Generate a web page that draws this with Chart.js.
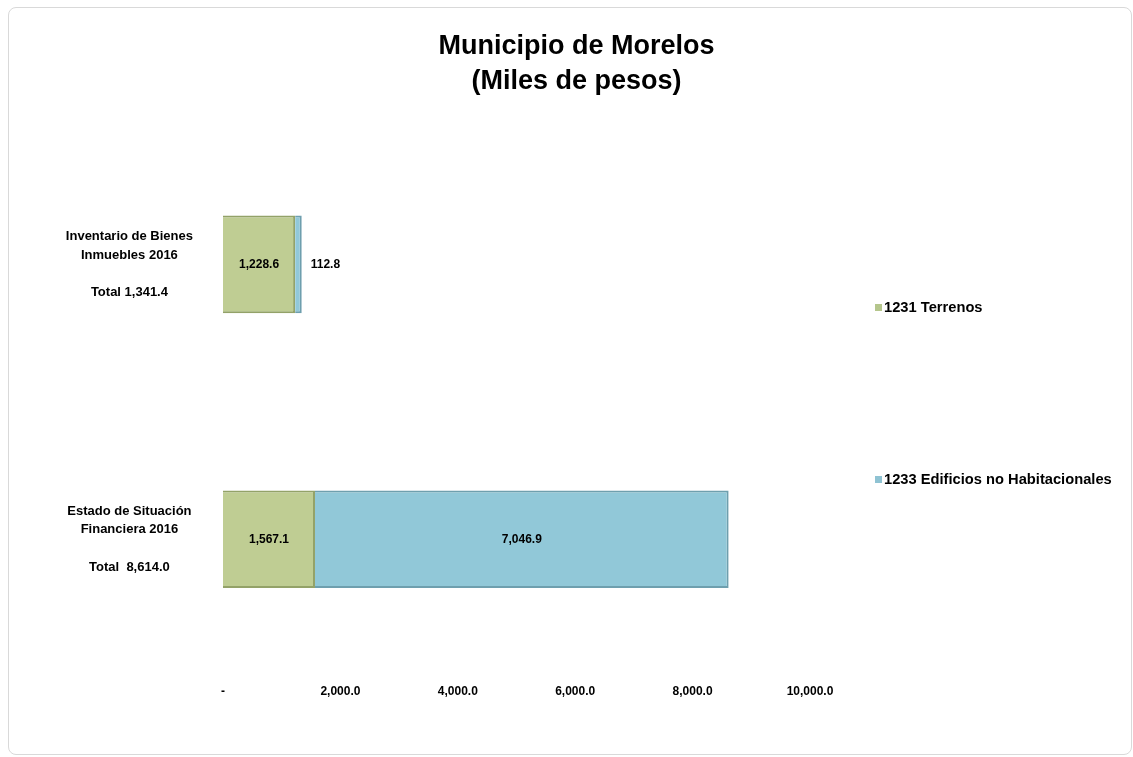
<!DOCTYPE html>
<html>
<head>
<meta charset="utf-8">
<script src="https://cdn.jsdelivr.net/npm/chart.js@4"></script>
<style>
  body { margin: 0; background: #fff; font-family: 'Liberation Sans Narrow', 'Arial Narrow', 'Liberation Sans', Arial, sans-serif; }
  #frame { position: absolute; left: 8px; top: 7px; width: 1122px; height: 746px; border: 1px solid #d9d9d9; border-radius: 8px; }
  #wrap { position: absolute; left: 0; top: 0; width: 1133px; height: 757px; }
  #title { position: absolute; left: 10px; top: 28px; width: 1133px; text-align: center; font-weight: bold; font-size: 27px; line-height: 35px; color: #000; }
  .leg { position: absolute; font-weight: bold; font-size: 14.7px; color: #000; white-space: nowrap; }
  .leg span { display: inline-block; width: 7px; height: 7px; margin-right: 2px; vertical-align: 1px; }
</style>
</head>
<body>
<div id="frame"></div>
<div id="wrap"><canvas id="chart" width="1133" height="757"></canvas></div>
<div id="title">Municipio de Morelos<br>(Miles de pesos)</div>
<div class="leg" style="left:875px; top:299px;"><span style="background:#b5c68c"></span>1231 Terrenos</div>
<div class="leg" style="left:875px; top:471px;"><span style="background:#8fc3d3"></span>1233 Edificios no Habitacionales</div>
<script>
const categories = [
    ['Inventario de Bienes', 'Inmuebles 2016', '', 'Total 1,341.4'],
    ['Estado de Situación', 'Financiera 2016', '', 'Total  8,614.0']
];
const terrenos = [1228.6, 1567.1];
const edificios = [112.8, 7046.9];
const xTicks = [0, 2000, 4000, 6000, 8000, 10000];

const fontFamily = "'Liberation Sans Narrow', 'Arial Narrow', 'Liberation Sans', Arial, sans-serif";
const fmt = v => v.toLocaleString('en-US', { minimumFractionDigits: 1, maximumFractionDigits: 1 });

// value labels inside each bar, or to the right when the bar is too thin
const barLabels = {
    id: 'barLabels',
    afterDatasetsDraw(chart) {
        const ctx = chart.ctx;
        ctx.save();
        ctx.font = 'bold 12px ' + fontFamily;
        ctx.fillStyle = '#000';
        ctx.textBaseline = 'middle';
        chart.data.datasets.forEach((ds, i) => {
            chart.getDatasetMeta(i).data.forEach((bar, j) => {
                const txt = fmt(ds.data[j]);
                const w = Math.abs(bar.x - bar.base);
                if (w > ctx.measureText(txt).width + 10) {
                    ctx.textAlign = 'center';
                    ctx.fillText(txt, (bar.x + bar.base) / 2, bar.y);
                } else {
                    ctx.textAlign = 'left';
                    ctx.fillText(txt, bar.x + 9, bar.y);
                }
            });
        });
        ctx.restore();
    }
};

new Chart(document.getElementById('chart'), {
    type: 'bar',
    data: {
        labels: categories,
        datasets: [{
            label: '1231 Terrenos',
            data: terrenos,
            backgroundColor: '#bfcd93',
            borderColor: '#93a268',
            borderWidth: 2,
            barPercentage: 0.355,
            categoryPercentage: 1
        }, {
            label: '1233 Edificios no Habitacionales',
            data: edificios,
            backgroundColor: '#91c8d8',
            borderColor: '#6e9fae',
            borderWidth: 2,
            barPercentage: 0.355,
            categoryPercentage: 1
        }]
    },
    options: {
        indexAxis: 'y',
        responsive: false,
        animation: false,
        layout: { padding: { left: 20, right: 323, top: 127, bottom: 50 } },
        plugins: {
            legend: { display: false },
            tooltip: { enabled: false },
            title: { display: false }
        },
        scales: {
            x: {
                stacked: true,
                min: 0,
                max: 10000,
                grid: { display: false, drawTicks: false },
                border: { display: false },
                afterBuildTicks: axis => { axis.ticks = xTicks.map(v => ({ value: v })); },
                ticks: {
                    color: '#000',
                    padding: 8,
                    font: { family: fontFamily, size: 12, weight: 'bold' },
                    callback: v => v === 0 ? '-' : fmt(v)
                }
            },
            y: {
                stacked: true,
                grid: { display: false, drawTicks: false },
                border: { display: false },
                afterFit: axis => { axis.width = 203; },
                ticks: {
                    color: '#000',
                    padding: 30,
                    crossAlign: 'center',
                    font: { family: fontFamily, size: 13, weight: 'bold', lineHeight: 1.45 }
                }
            }
        }
    },
    plugins: [barLabels]
});
</script>
</body>
</html>
